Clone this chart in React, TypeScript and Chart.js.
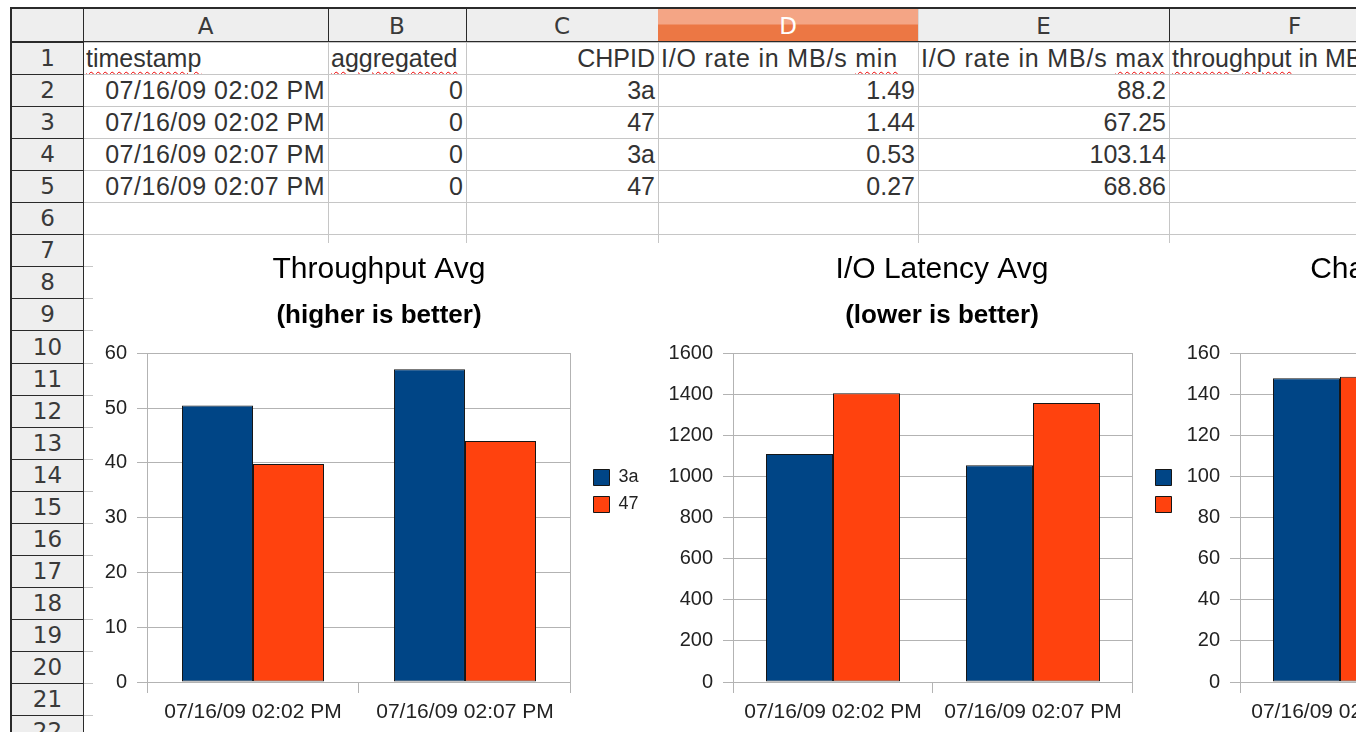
import React, { useEffect, useRef } from 'react';
import { Chart, registerables } from 'chart.js';

Chart.register(...registerables);

// ---------- data ----------
const categories = ['07/16/09 02:02 PM', '07/16/09 02:07 PM'];
const seriesNames = ['3a', '47'];

const throughput3a = [50.45, 57.09];
const throughput47 = [39.8, 44.0];
const latency3a = [1109, 1055];
const latency47 = [1405, 1358];
const channel3a = [147.8, 147.2];
const channel47 = [148.5, 148.0];

const throughputTicks = { max: 60, step: 10 };
const latencyTicks = { max: 1600, step: 200 };
const channelTicks = { max: 160, step: 20 };

const columnLetters = ['A', 'B', 'C', 'D', 'E', 'F'];
const timestamps = ['07/16/09 02:02 PM', '07/16/09 02:02 PM', '07/16/09 02:07 PM', '07/16/09 02:07 PM'];
const aggregatedValues = ['0', '0', '0', '0'];
const chpids = ['3a', '47', '3a', '47'];
const rateMin = ['1.49', '1.44', '0.53', '0.27'];
const rateMax = ['88.2', '67.25', '103.14', '68.86'];

// ---------- styling / layout ----------
const FONT = "'Liberation Sans', Arial, sans-serif";
const HFONT = "'DejaVu Sans', sans-serif";
const BLUE = '#004586';
const ORANGE = '#ff420e';
const EDGE = '#161616';
const GRID = '#b3b3b3';
const CELL_LINE = '#c6c6c6';
const DARK = '#2a2a2a';
const HEADER_BG = '#eeeeee';

const COL_X = [83, 328, 466, 658, 918, 1169, 1420];
const ROW_Y = [42, 74, 106, 138, 170, 202, 234, 266, 298, 330, 363, 395, 427, 459, 491, 523, 555, 587, 619, 651, 683, 715, 747];
const CHART_TOP = 243;
const CHART_H = 492;

const nudge = {
  id: 'nudge',
  afterLayout(chart: any, _args: any, opts: any) {
    if (!opts) return;
    const lg = chart.legend;
    if (lg && opts.legendLeft != null) {
      const w = lg.right - lg.left;
      lg.left = opts.legendLeft;
      lg.right = lg.left + w;
      const dy = opts.legendDy || 0;
      lg.top += dy;
      lg.bottom += dy;
    }
    if (opts.titleCenter != null) {
      for (const bx of chart.boxes) {
        if (bx.position === 'top' && !bx.axis) {
          const w = bx.right - bx.left;
          bx.left = opts.titleCenter - w / 2;
          bx.right = bx.left + w;
        }
      }
    }
  },
};

type Spec = {
  left: number;
  width: number;
  padRight: number;
  yWidth: number;
  title: string;
  subtitle: string;
  s1: number[];
  s2: number[];
  ticks: { max: number; step: number };
  titleCenter: number;
  legendLeft: number;
};

function BarChart(p: Spec) {
  const ref = useRef<HTMLCanvasElement | null>(null);
  useEffect(() => {
    const el = ref.current;
    if (!el) return;
    const ds = (label: string, data: number[], color: string) => ({
      label,
      data,
      backgroundColor: color,
      borderColor: EDGE,
      borderWidth: 1,
      borderSkipped: false as const,
      categoryPercentage: 0.67,
      barPercentage: 1,
    });
    const chart = new Chart(el, {
      type: 'bar',
      data: {
        labels: categories,
        datasets: [ds(seriesNames[0], p.s1, BLUE), ds(seriesNames[1], p.s2, ORANGE)],
      },
      options: {
        responsive: false,
        animation: false,
        devicePixelRatio: 1,
        events: [],
        layout: { padding: { left: 0, top: 0, bottom: 0, right: p.padRight } },
        scales: {
          x: {
            grid: {
              offset: true,
              color: (c: any) => (c.type === 'scale' ? GRID : 'rgba(0,0,0,0)'),
              tickColor: GRID,
              tickLength: 11,
              lineWidth: 1,
            },
            border: { color: GRID, width: 1 },
            ticks: {
              font: { family: FONT, size: 21 },
              color: '#222',
              padding: 7,
              maxRotation: 0,
              autoSkip: false,
            },
            afterFit: (s: any) => {
              s.height = 53;
            },
          },
          y: {
            min: 0,
            max: p.ticks.max,
            grid: { color: GRID, tickColor: GRID, tickLength: 10, lineWidth: 1 },
            border: { color: GRID, width: 1 },
            ticks: {
              stepSize: p.ticks.step,
              font: { family: FONT, size: 20 },
              color: '#222',
              padding: 10,
              callback: (v: any) => String(v),
            },
            afterFit: (s: any) => {
              s.width = p.yWidth;
            },
          },
        },
        plugins: {
          legend: {
            position: 'right',
            labels: {
              boxWidth: 16,
              boxHeight: 16,
              padding: 9,
              color: '#222',
              font: { family: FONT, size: 18 },
            },
          },
          title: {
            display: true,
            text: p.title,
            color: '#000',
            font: { family: FONT, size: 30, weight: 'normal' },
            padding: { top: 9, bottom: 0 },
          },
          subtitle: {
            display: true,
            text: p.subtitle,
            color: '#000',
            font: { family: FONT, size: 26, weight: 'bold' },
            padding: { top: 12, bottom: 22 },
          },
          tooltip: { enabled: false },
          nudge: { titleCenter: p.titleCenter, legendLeft: p.legendLeft, legendDy: 2 },
        } as any,
      },
      plugins: [nudge],
    });
    return () => chart.destroy();
  }, []);
  return (
    <canvas
      ref={ref}
      width={p.width}
      height={CHART_H}
      style={{ position: 'absolute', left: p.left, top: CHART_TOP, width: p.width, height: CHART_H, background: '#fff' }}
    />
  );
}

function Cell(props: { col: number; row: number; align: 'left' | 'right'; children: any; style?: any }) {
  const { col, row, align, children, style } = props;
  const left = COL_X[col];
  const w = COL_X[col + 1] - left;
  const top = ROW_Y[row - 1];
  const h = ROW_Y[row] - top;
  return (
    <div
      style={{
        position: 'absolute',
        left,
        top,
        width: w,
        height: h,
        display: 'flex',
        alignItems: 'center',
        justifyContent: align === 'right' ? 'flex-end' : 'flex-start',
        padding: align === 'right' ? '0 3px 0 0' : '0 0 0 3px',
        boxSizing: 'border-box',
        font: `25px ${FONT}`,
        color: '#333',
        whiteSpace: 'pre',
        overflow: 'hidden',
      }}
    >
      <span style={style}>{children}</span>
    </div>
  );
}

const wavy: any = {
  textDecorationLine: 'underline',
  textDecorationStyle: 'wavy',
  textDecorationColor: '#ee0000',
  textDecorationThickness: '1.3px',
  textUnderlineOffset: '4px',
};

const ioStyle = { letterSpacing: '0.8px' };

export default function App() {
  const rowsShown = ROW_Y.length - 1;
  return (
    <div style={{ position: 'fixed', left: 0, top: 0, width: 1356, height: 732, overflow: 'hidden', background: '#fff' }}>
      {/* cell grid lines */}
      {COL_X.slice(1).map((x, i) => (
        <div key={'v' + i} style={{ position: 'absolute', left: x, top: 42, width: 1, height: 700, background: CELL_LINE }} />
      ))}
      {ROW_Y.map((y, i) => (
        <div key={'h' + i} style={{ position: 'absolute', left: 83, top: y, width: 1300, height: 1, background: CELL_LINE }} />
      ))}

      {/* row 1 headers */}
      <Cell col={0} row={1} align="left"><span style={wavy}>timestamp</span></Cell>
      <Cell col={1} row={1} align="left"><span style={wavy}>aggregated</span></Cell>
      <Cell col={2} row={1} align="right">CHPID</Cell>
      <Cell col={3} row={1} align="left" style={ioStyle}>{'I/O rate in MB/s '}<span style={wavy}>min</span></Cell>
      <Cell col={4} row={1} align="left" style={ioStyle}>{'I/O rate in MB/s '}<span style={wavy}>max</span></Cell>
      <Cell col={5} row={1} align="left"><span style={wavy}>throughput</span>{' in MB/s avg'}</Cell>

      {timestamps.map((t, i) => (
        <React.Fragment key={'r' + i}>
          <Cell col={0} row={i + 2} align="right" style={{ letterSpacing: '0.5px' }}>{t}</Cell>
          <Cell col={1} row={i + 2} align="right">{aggregatedValues[i]}</Cell>
          <Cell col={2} row={i + 2} align="right">{chpids[i]}</Cell>
          <Cell col={3} row={i + 2} align="right">{rateMin[i]}</Cell>
          <Cell col={4} row={i + 2} align="right">{rateMax[i]}</Cell>
        </React.Fragment>
      ))}

      {/* column headers */}
      <div style={{ position: 'absolute', left: 10, top: 7, width: 1346, height: 35, background: HEADER_BG }} />
      {columnLetters.map((c, i) => {
        const left = COL_X[i];
        const w = COL_X[i + 1] - left;
        const sel = c === 'D';
        return (
          <div
            key={c}
            style={{
              position: 'absolute',
              left,
              top: 9,
              width: w,
              height: 33,
              display: 'flex',
              alignItems: 'center',
              justifyContent: 'center',
              font: `23px ${HFONT}`,
              color: sel ? '#fff' : '#3a3a3a',
              background: sel ? 'linear-gradient(#f4a585 0px, #f4a585 15px, #ec7744 16px, #ec7744 100%)' : 'transparent',
            }}
          >
            {c}
          </div>
        );
      })}
      {[83, 328, 466, 1169].map((x) => (
        <div key={'hd' + x} style={{ position: 'absolute', left: x, top: 8, width: 1, height: 34, background: DARK }} />
      ))}
      <div style={{ position: 'absolute', left: 918, top: 9, width: 1, height: 33, background: '#d8d8d8' }} />

      {/* row headers */}
      <div style={{ position: 'absolute', left: 10, top: 42, width: 73, height: 700, background: HEADER_BG }} />
      {Array.from({ length: rowsShown }, (_, i) => (
        <div
          key={'rn' + i}
          style={{
            position: 'absolute',
            left: 12,
            top: ROW_Y[i],
            width: 71,
            height: ROW_Y[i + 1] - ROW_Y[i],
            display: 'flex',
            alignItems: 'center',
            justifyContent: 'center',
            font: `23px ${HFONT}`,
            color: '#3a3a3a',
          }}
        >
          {i + 1}
        </div>
      ))}
      {ROW_Y.map((y, i) => (
        <div key={'rl' + i} style={{ position: 'absolute', left: 10, top: y, width: 73, height: 1, background: DARK }} />
      ))}
      <div style={{ position: 'absolute', left: 83, top: 8, width: 1, height: 730, background: DARK }} />

      {/* frame */}
      <div style={{ position: 'absolute', left: 10, top: 7, width: 1346, height: 2, background: DARK }} />
      <div style={{ position: 'absolute', left: 10, top: 7, width: 2, height: 730, background: DARK }} />
      <div style={{ position: 'absolute', left: 10, top: 41, width: 1346, height: 1, background: DARK }} />

      {/* chart objects */}
      <div style={{ position: 'absolute', left: 93, top: CHART_TOP, width: 1263, height: 500, background: '#fff' }} />
      <BarChart
        left={93}
        width={572}
        padRight={30}
        yWidth={54}
        title="Throughput Avg"
        subtitle="(higher is better)"
        s1={throughput3a}
        s2={throughput47}
        ticks={throughputTicks}
        titleCenter={286}
        legendLeft={491.5}
      />
      <BarChart
        left={650}
        width={584}
        padRight={37}
        yWidth={83}
        title="I/O Latency Avg"
        subtitle="(lower is better)"
        s1={latency3a}
        s2={latency47}
        ticks={latencyTicks}
        titleCenter={292}
        legendLeft={496.5}
      />
      <BarChart
        left={1175}
        width={560}
        padRight={31}
        yWidth={65}
        title="Channel Utilization Avg"
        subtitle="(lower is better)"
        s1={channel3a}
        s2={channel47}
        ticks={channelTicks}
        titleCenter={290}
        legendLeft={491.5}
      />
    </div>
  );
}
